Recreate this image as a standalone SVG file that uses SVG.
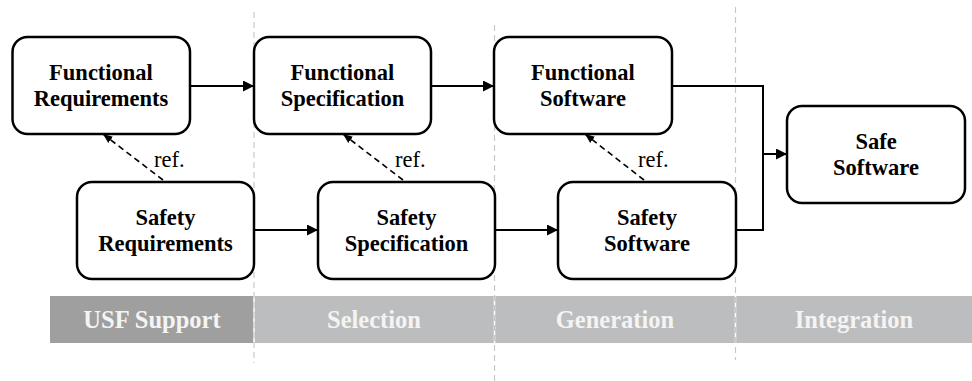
<svg xmlns="http://www.w3.org/2000/svg" width="972" height="381" viewBox="0 0 972 381">
<style>
.box{fill:#fff;stroke:#000;stroke-width:2.5}
.nodeLabel{font-family:'Liberation Serif',serif;font-weight:700;font-size:22.5px;text-anchor:middle;fill:#000}
.refLabel{font-family:'Liberation Serif',serif;font-size:22.5px;fill:#000}
.phaseLabel{font-family:'Liberation Serif',serif;font-weight:700;font-size:24.5px;text-anchor:middle;fill:#f4f4f4}
.con{fill:none;stroke:#000;stroke-width:2}
.dash{fill:none;stroke:#000;stroke-width:1.6;stroke-dasharray:6,4}
.sep{stroke:#c8c8c8;stroke-width:1.2;stroke-dasharray:6,4}
</style>
<defs>
<marker id="ah" viewBox="0 0 10 10" refX="10" refY="5" markerWidth="6" markerHeight="5.5" orient="auto" markerUnits="strokeWidth">
<path d="M0,0 L10,5 L0,10 Z" fill="#000"/>
</marker>
<marker id="ahs" viewBox="0 0 10 10" refX="10" refY="5" markerWidth="6" markerHeight="6" orient="auto" markerUnits="strokeWidth">
<path d="M0,1 L10,5 L0,9 Z" fill="#000"/>
</marker>
</defs>
<rect width="972" height="381" fill="#fff"/>
<g id="bands">
<rect x="50" y="296" width="204" height="47" fill="#9f9f9f"/>
<rect x="254" y="296" width="718" height="47" fill="#bcbdbe"/>
<line x1="254" y1="296" x2="254" y2="343" stroke="#fff" stroke-width="1.5"/>
<line x1="494.5" y1="296" x2="494.5" y2="343" stroke="#fff" stroke-width="1.5"/>
<line x1="735.5" y1="296" x2="735.5" y2="343" stroke="#fff" stroke-width="1.5"/>
<text class="phaseLabel" font-family="Liberation Serif" x="152" y="328">USF Support</text>
<text class="phaseLabel" font-family="Liberation Serif" x="374" y="328">Selection</text>
<text class="phaseLabel" font-family="Liberation Serif" x="615" y="328">Generation</text>
<text class="phaseLabel" font-family="Liberation Serif" x="854" y="328">Integration</text>
</g>
<g id="separators">
<line class="sep" x1="254" y1="12" x2="254" y2="363"/>
<line class="sep" x1="494.5" y1="25" x2="494.5" y2="381"/>
<line class="sep" x1="735.5" y1="7" x2="735.5" y2="360"/>
</g>
<g id="connectors">
<line class="con" x1="190" y1="86" x2="254" y2="86" marker-end="url(#ah)"/>
<line class="con" x1="431" y1="86" x2="494" y2="86" marker-end="url(#ah)"/>
<polyline class="con" points="672,86 763,86 763,230 736,230"/>
<line class="con" x1="763" y1="154" x2="787" y2="154" marker-end="url(#ah)"/>
<line class="con" x1="254" y1="230" x2="318" y2="230" marker-end="url(#ah)"/>
<line class="con" x1="495" y1="230" x2="558" y2="230" marker-end="url(#ah)"/>
<line class="dash" x1="163" y1="180" x2="103" y2="134" marker-end="url(#ahs)"/>
<line class="dash" x1="403" y1="180" x2="343" y2="134" marker-end="url(#ahs)"/>
<line class="dash" x1="644" y1="180" x2="585" y2="134" marker-end="url(#ahs)"/>
<text class="refLabel" font-family="Liberation Serif" x="154" y="167">ref.</text>
<text class="refLabel" font-family="Liberation Serif" x="395" y="167">ref.</text>
<text class="refLabel" font-family="Liberation Serif" x="638" y="167">ref.</text>
</g>
<g id="functional-requirements">
<rect class="box" x="12.5" y="37" width="177.5" height="97" rx="15"/>
<text class="nodeLabel" font-family="Liberation Serif" x="101" y="80">Functional</text>
<text class="nodeLabel" font-family="Liberation Serif" x="101" y="106">Requirements</text>
</g>
<g id="functional-specification">
<rect class="box" x="254" y="37" width="177" height="97" rx="15"/>
<text class="nodeLabel" font-family="Liberation Serif" x="342.5" y="80">Functional</text>
<text class="nodeLabel" font-family="Liberation Serif" x="342.5" y="106">Specification</text>
</g>
<g id="functional-software">
<rect class="box" x="494" y="37" width="178" height="97" rx="15"/>
<text class="nodeLabel" font-family="Liberation Serif" x="583" y="80">Functional</text>
<text class="nodeLabel" font-family="Liberation Serif" x="583" y="106">Software</text>
</g>
<g id="safe-software">
<rect class="box" x="787" y="106" width="178" height="97" rx="15"/>
<text class="nodeLabel" font-family="Liberation Serif" x="876" y="149">Safe</text>
<text class="nodeLabel" font-family="Liberation Serif" x="876" y="175">Software</text>
</g>
<g id="safety-requirements">
<rect class="box" x="77" y="182" width="177" height="97" rx="15"/>
<text class="nodeLabel" font-family="Liberation Serif" x="165.5" y="225">Safety</text>
<text class="nodeLabel" font-family="Liberation Serif" x="165.5" y="251">Requirements</text>
</g>
<g id="safety-specification">
<rect class="box" x="318" y="182" width="177" height="97" rx="15"/>
<text class="nodeLabel" font-family="Liberation Serif" x="406.5" y="225">Safety</text>
<text class="nodeLabel" font-family="Liberation Serif" x="406.5" y="251">Specification</text>
</g>
<g id="safety-software">
<rect class="box" x="558" y="182" width="178" height="97" rx="15"/>
<text class="nodeLabel" font-family="Liberation Serif" x="647" y="225">Safety</text>
<text class="nodeLabel" font-family="Liberation Serif" x="647" y="251">Software</text>
</g>
</svg>
